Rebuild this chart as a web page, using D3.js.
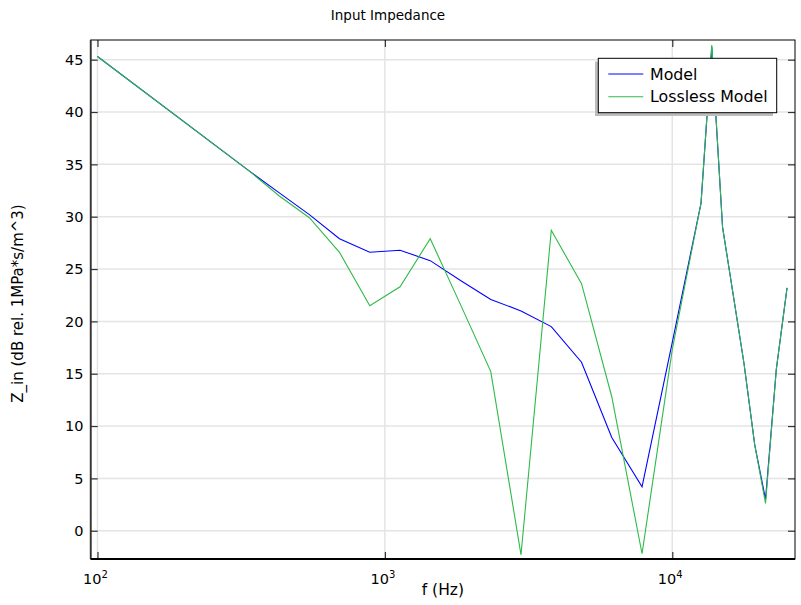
<!DOCTYPE html>
<html>
<head>
<meta charset="utf-8">
<script src="https://cdn.jsdelivr.net/npm/d3@7"></script>
<style>
    body { margin: 0; background: #fff; }
    text { font-family: "DejaVu Sans", sans-serif; fill: #000; }
    .grid line { stroke: #e4e4e4; stroke-width: 1.5; }
</style>
</head>
<body>
<script>
(function(){

    //chart data
    var freqs = [100, 336, 428, 546, 695, 886, 1129, 1438, 1833, 2336, 2976, 3793, 4833, 6158, 7848,
        10000, 12590, 13720, 14960, 17760, 19360, 21110, 23010, 25080]; //Hz
    var modelValues = [45.3, 34.4, 32.3, 30.2, 27.9, 26.6, 26.8, 25.8, 23.9, 22.1, 21.0, 19.5, 16.1, 8.9, 4.2,
        18.0, 31.3, 46.2, 29.0, 16.0, 8.2, 3.0, 15.4, 23.2];
    var losslessValues = [45.3, 34.4, 32.0, 29.9, 26.6, 21.5, 23.3, 27.9, 21.6, 15.2, -2.3, 28.7, 23.6, 12.8, -2.2,
        17.3, 31.3, 46.4, 29.0, 16.0, 8.2, 2.6, 15.4, 23.2];
    var seriesNames = ["Model", "Lossless Model"];
    var seriesColors = ["#0000ff", "#2fba48"];
    var yTicks = [0, 5, 10, 15, 20, 25, 30, 35, 40, 45];
    var xTicks = [100, 1000, 10000];

    window.onload = function(){
        setChart();
    };

    function setChart(){
        var width = 801,
            height = 605;
        var left = 90.7, right = 795, top = 40, bottom = 559;

        var svg = d3.select("body")
            .append("svg")
            .attr("width", width)
            .attr("height", height);

        var x = d3.scaleLog()
            .domain([94.7, 26730])
            .range([left, right]);

        var y = d3.scaleLinear()
            .domain([-2.70, 46.88])
            .range([bottom, top]);

        //grid lines
        var grid = svg.append("g").attr("class", "grid");
        grid.selectAll(".gx")
            .data(xTicks)
            .enter()
            .append("line")
            .attr("x1", function(d){ return x(d); })
            .attr("x2", function(d){ return x(d); })
            .attr("y1", top)
            .attr("y2", bottom);
        grid.selectAll(".gy")
            .data(yTicks)
            .enter()
            .append("line")
            .attr("x1", left)
            .attr("x2", right)
            .attr("y1", function(d){ return y(d); })
            .attr("y2", function(d){ return y(d); });

        //series lines
        var line = d3.line()
            .x(function(d){ return x(d[0]); })
            .y(function(d){ return y(d[1]); });

        [modelValues, losslessValues].forEach(function(vals, i){
            svg.append("path")
                .datum(d3.zip(freqs, vals))
                .attr("fill", "none")
                .attr("stroke", seriesColors[i])
                .attr("stroke-width", 1.1)
                .attr("d", line);
        });

        //frame and inward ticks
        var tickLen = 7;
        var axes = svg.append("g");
        axes.append("g")
            .attr("transform", "translate(0," + bottom + ")")
            .call(d3.axisBottom(x).tickValues(xTicks).tickSizeInner(-tickLen).tickSizeOuter(0).tickFormat(""));
        axes.append("g")
            .attr("transform", "translate(0," + top + ")")
            .call(d3.axisTop(x).tickValues(xTicks).tickSizeInner(-tickLen).tickSizeOuter(0).tickFormat(""));
        axes.append("g")
            .attr("transform", "translate(" + left + ",0)")
            .call(d3.axisLeft(y).tickValues(yTicks).tickSizeInner(-tickLen).tickSizeOuter(0).tickFormat(""));
        axes.append("g")
            .attr("transform", "translate(" + right + ",0)")
            .call(d3.axisRight(y).tickValues(yTicks).tickSizeInner(-tickLen).tickSizeOuter(0).tickFormat(""));
        axes.selectAll(".domain").remove();
        axes.selectAll(".tick line").attr("stroke", "#333").attr("stroke-width", 1.2);

        svg.append("rect")
            .attr("x", left)
            .attr("y", top)
            .attr("width", right - left)
            .attr("height", bottom - top)
            .attr("fill", "none")
            .attr("stroke", "#000")
            .attr("stroke-width", 1);
        //heavier left and bottom axis lines
        svg.append("line")
            .attr("x1", left).attr("x2", left).attr("y1", top).attr("y2", bottom)
            .attr("stroke", "#333").attr("stroke-width", 1.8);
        svg.append("line")
            .attr("x1", left).attr("x2", right).attr("y1", bottom).attr("y2", bottom)
            .attr("stroke", "#000").attr("stroke-width", 1.8);

        //y tick labels
        svg.selectAll(".ylab")
            .data(yTicks)
            .enter()
            .append("text")
            .attr("x", 83.5)
            .attr("y", function(d){ return y(d); })
            .attr("dy", "0.36em")
            .attr("text-anchor", "end")
            .style("font-size", "14.5px")
            .text(function(d){ return d; });

        //x tick labels as powers of ten
        var xl = svg.selectAll(".xlab")
            .data(xTicks)
            .enter()
            .append("text")
            .attr("x", function(d){ return x(d) - 2; })
            .attr("y", 584)
            .attr("text-anchor", "middle")
            .style("font-size", "14.5px");
        xl.append("tspan").text("10");
        xl.append("tspan")
            .attr("dy", -6)
            .style("font-size", "10px")
            .text(function(d){ return Math.round(Math.log10(d)); });

        //titles
        svg.append("text")
            .attr("x", 388)
            .attr("y", 20)
            .attr("text-anchor", "middle")
            .style("font-size", "13.5px")
            .text("Input Impedance");
        svg.append("text")
            .attr("x", (left + right) / 2)
            .attr("y", 595)
            .attr("text-anchor", "middle")
            .style("font-size", "15.5px")
            .text("f (Hz)");
        svg.append("text")
            .attr("transform", "translate(23," + ((top + bottom) / 2 + 4) + ") rotate(-90)")
            .attr("text-anchor", "middle")
            .style("font-size", "15px")
            .text("Z_in (dB rel. 1MPa*s/m^3)");

        //legend
        var lg = svg.append("g");
        lg.append("rect")
            .attr("x", 595).attr("y", 61.5)
            .attr("width", 178).attr("height", 54.5)
            .attr("fill", "#bdbdbd");
        lg.append("rect")
            .attr("x", 598.3).attr("y", 58.3)
            .attr("width", 178.4).attr("height", 54.4)
            .attr("fill", "#fff")
            .attr("stroke", "#000")
            .attr("stroke-width", 1);
        seriesNames.forEach(function(name, i){
            var ly = 74 + i * 22.7;
            lg.append("line")
                .attr("x1", 608.3).attr("x2", 643.3)
                .attr("y1", ly).attr("y2", ly)
                .attr("stroke", seriesColors[i])
                .attr("stroke-width", 1.1);
            lg.append("text")
                .attr("x", 650)
                .attr("y", ly)
                .attr("dy", "0.36em")
                .style("font-size", "15.8px")
                .text(name);
        });
    };

})();
</script>
</body>
</html>
